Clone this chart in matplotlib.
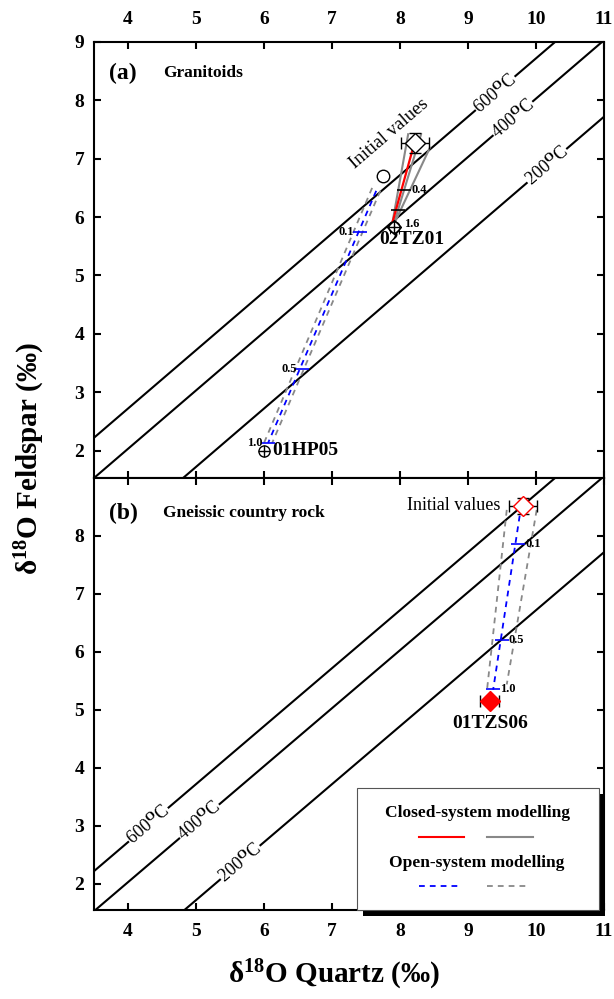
import numpy as np
import matplotlib.pyplot as plt
from matplotlib.patches import Rectangle
import matplotlib.transforms as mtransforms

plt.rcParams['font.family'] = ['Liberation Serif', 'DejaVu Serif']
plt.rcParams['font.weight'] = 'bold'
plt.rcParams['mathtext.fontset'] = 'custom'
plt.rcParams['mathtext.rm'] = 'Liberation Serif'
plt.rcParams['mathtext.bf'] = 'Liberation Serif:bold'
plt.rcParams['mathtext.it'] = 'Liberation Serif:italic'

# Isotherms: d18O Fsp = d18O Qz - delta
iso_temps = ['600', '400', '200']
iso_delta = [1.28, 1.97, 3.28]
iso_lab_x_a = [9.40, 9.66, 10.16]
iso_lab_x_b = [4.30, 5.05, 5.65]
x_lim = [3.5, 11]
x_ticks = [4, 5, 6, 7, 8, 9, 10, 11]

# ---- Panel (a) granitoids ----
a_names = ['01HP05', '02TZ01']
a_qz = [6.00, 7.91]
a_fsp = [2.00, 5.83]
a_init_qz = [7.75, 8.22]
a_init_fsp = [6.71, 7.27]
a_init_xerr = 0.20
a_init_yerr = 0.17

# closed-system model for 02TZ01
cl_red_qz = [8.20, 7.88]
cl_red_fsp = [7.22, 5.87]
cl_grey_qz = [[8.12, 7.88], [8.31, 7.90], [8.44, 7.90]]
cl_grey_fsp = [[7.42, 5.85], [7.42, 5.85], [7.19, 5.85]]
cl_tick_qz = [8.06, 7.97]
cl_tick_fsp = [6.47, 6.12]
cl_tick_lab = ['0.4', '']

# open-system model for 01HP05
op_blue_qz = [7.65, 6.06]
op_blue_fsp = [6.45, 2.13]
op_grey_qz = [[7.59, 6.00], [7.71, 6.12]]
op_grey_fsp = [[6.50, 2.13], [6.45, 2.13]]
op_tick_qz = [7.41, 6.56, 6.06]
op_tick_fsp = [5.75, 3.40, 2.13]
op_tick_lab = ['0.1', '0.5', '1.0']

# ---- Panel (b) gneissic country rock ----
b_name = '01TZS06'
b_qz = 9.32
b_fsp = 5.16
b_xerr = 0.14
b_init_qz = 9.81
b_init_fsp = 8.52
b_init_xerr = 0.21
b_init_yerr = 0.14

b_blue_qz = [9.76, 9.37]
b_blue_fsp = [8.35, 5.35]
b_grey_qz = [[9.57, 9.28], [10.01, 9.57]]
b_grey_fsp = [[8.45, 5.35], [8.45, 5.44]]
b_tick_qz = [9.74, 9.50, 9.37]
b_tick_fsp = [7.87, 6.21, 5.36]
b_tick_lab = ['0.1', '0.5', '1.0']

GREY = '#888888'
DASH = (3.2, 2.8)

fig = plt.figure(figsize=(6.14, 9.99), dpi=100)
ax_a = fig.add_axes([94/614, 1-478/999, 510/614, 436/999])
ax_b = fig.add_axes([94/614, 1-910/999, 510/614, 432/999])


def draw_isotherms(ax, lab_x):
    for t, d, lx in zip(iso_temps, iso_delta, lab_x):
        ax.plot(x_lim, [x_lim[0]-d, x_lim[1]-d], 'k-', lw=1.5, zorder=1)
        ax.text(lx, lx-d, t + '$^{\\mathrm{O}}$C', fontsize=13, fontweight='normal',
                rotation=45, transform_rotates_text=True, rotation_mode='anchor',
                ha='center', va='center', zorder=2,
                bbox=dict(facecolor='white', edgecolor='none', pad=0.3))


def tick_labels(ax, xs, ys, labs, dx, color, ha):
    ax.plot(xs, ys, ls='none', marker='_', ms=10, mew=1.2, color=color, zorder=4)
    for x, y, s in zip(xs, ys, labs):
        if s:
            ax.annotate(s, (x, y), xytext=(dx, 0), textcoords='offset points',
                        fontsize=9, ha=ha, va='center', zorder=6)


for ax in (ax_a, ax_b):
    ax.set_xlim(x_lim)
    ax.set_xticks(x_ticks)
    ax.tick_params(direction='in', length=5, width=1.5, top=True, right=True,
                   labelsize=14, pad=7)
    for sp in ax.spines.values():
        sp.set_linewidth(1.5)

ax_a.set_ylim(1.53, 9)
ax_a.set_yticks([2, 3, 4, 5, 6, 7, 8, 9])
ax_a.tick_params(axis='x', labeltop=True, labelbottom=False, pad=10)
ax_b.set_ylim(1.55, 9)
ax_b.set_yticks([2, 3, 4, 5, 6, 7, 8])
ax_b.tick_params(axis='x', pad=9)

# ---- panel (a) ----
draw_isotherms(ax_a, iso_lab_x_a)
for gx, gy in zip(cl_grey_qz, cl_grey_fsp):
    ax_a.plot(gx, gy, color=GREY, lw=1.5, zorder=3)
ax_a.plot(cl_red_qz, cl_red_fsp, color='red', lw=1.6, zorder=3)
tick_labels(ax_a, cl_tick_qz, cl_tick_fsp, cl_tick_lab, 5, 'black', 'left')
ax_a.annotate('1.6', (a_qz[1], a_fsp[1]), xytext=(7, 2), textcoords='offset points',
              fontsize=9, ha='left', va='center')

for gx, gy in zip(op_grey_qz, op_grey_fsp):
    ax_a.plot(gx, gy, color=GREY, lw=1.3, dashes=DASH, zorder=3)
ax_a.plot(op_blue_qz, op_blue_fsp, color='blue', lw=1.3, dashes=DASH, zorder=3)
tick_labels(ax_a, op_tick_qz, op_tick_fsp, op_tick_lab, -4, 'blue', 'right')

# samples
for q, f in zip(a_qz, a_fsp):
    ax_a.plot(q, f, 'o', ms=8, mfc='white', mec='black', mew=1, zorder=5)
    ax_a.plot(q, f, '+', ms=9, color='black', mew=1, zorder=6)
ax_a.plot(a_qz[1], a_fsp[1], 'D', ms=7, mfc='none', mec='black', mew=1, zorder=6)
ax_a.text(a_qz[0]+0.12, a_fsp[0], a_names[0], fontsize=14, ha='left', va='center')
ax_a.text(a_qz[1]-0.22, a_fsp[1]-0.22, a_names[1], fontsize=14, ha='left', va='center')

# initial values
ax_a.plot(a_init_qz[0], a_init_fsp[0], 'o', ms=9, mfc='white', mec='black', mew=1, zorder=5)
ax_a.errorbar(a_init_qz[1], a_init_fsp[1], xerr=a_init_xerr, yerr=a_init_yerr,
              fmt='D', ms=10, mfc='white', mec='black', mew=1, ecolor='black',
              elinewidth=1, capsize=4, zorder=5)
ax_a.text(7.84, 7.43, 'Initial values', fontsize=13.5, fontweight='normal',
          rotation=45, transform_rotates_text=True, rotation_mode='anchor',
          ha='center', va='center')

ax_a.text(0.03, 0.929, '(a)', transform=ax_a.transAxes, fontsize=17,
          ha='left', va='center')
ax_a.text(0.135, 0.929, 'Granitoids', transform=ax_a.transAxes, fontsize=12.5,
          ha='left', va='center')

# ---- panel (b) ----
draw_isotherms(ax_b, iso_lab_x_b)
for gx, gy in zip(b_grey_qz, b_grey_fsp):
    ax_b.plot(gx, gy, color=GREY, lw=1.3, dashes=DASH, zorder=3)
ax_b.plot(b_blue_qz, b_blue_fsp, color='blue', lw=1.3, dashes=DASH, zorder=3)
tick_labels(ax_b, b_tick_qz, b_tick_fsp, b_tick_lab, 5, 'blue', 'left')

ax_b.errorbar(b_qz, b_fsp, xerr=b_xerr, fmt='D', ms=10, color='red', mec='red',
              ecolor='black', elinewidth=1, capsize=4, zorder=5)
ax_b.text(b_qz, b_fsp-0.4, b_name, fontsize=14, ha='center', va='center')
ax_b.errorbar(b_init_qz, b_init_fsp, xerr=b_init_xerr, yerr=b_init_yerr,
              fmt='D', ms=10, mfc='white', mec='red', mew=1, ecolor='black',
              elinewidth=1, capsize=4, zorder=5)
ax_b.text(b_init_qz-0.33, b_init_fsp, 'Initial values', fontsize=13,
          fontweight='normal', ha='right', va='center')

ax_b.text(0.03, 0.918, '(b)', transform=ax_b.transAxes, fontsize=17,
          ha='left', va='center')
ax_b.text(0.135, 0.918, 'Gneissic country rock', transform=ax_b.transAxes,
          fontsize=12.5, ha='left', va='center')

# legend box with shadow
shadow = mtransforms.offset_copy(ax_b.transAxes, fig=fig, x=6, y=-6, units='dots')
ax_b.add_patch(Rectangle((0.516, 0.0), 0.474, 0.282, transform=shadow,
                         facecolor='black', edgecolor='none', clip_on=False, zorder=7))
ax_b.add_patch(Rectangle((0.516, 0.0), 0.474, 0.282, transform=ax_b.transAxes,
                         facecolor='white', edgecolor='#555555', lw=0.8,
                         clip_on=False, zorder=8))
ax_b.text(0.751, 0.225, 'Closed-system modelling', transform=ax_b.transAxes,
          fontsize=12.5, ha='center', va='center', zorder=9)
ax_b.plot([0.637, 0.726], [0.169, 0.169], color='red', lw=1.5,
          transform=ax_b.transAxes, zorder=9, clip_on=False)
ax_b.plot([0.771, 0.861], [0.169, 0.169], color=GREY, lw=1.5,
          transform=ax_b.transAxes, zorder=9, clip_on=False)
ax_b.text(0.751, 0.109, 'Open-system modelling', transform=ax_b.transAxes,
          fontsize=12.5, ha='center', va='center', zorder=9)
ax_b.plot([0.637, 0.72], [0.056, 0.056], color='blue', lw=1.3, dashes=DASH,
          transform=ax_b.transAxes, zorder=9, clip_on=False)
ax_b.plot([0.771, 0.851], [0.056, 0.056], color=GREY, lw=1.3, dashes=DASH,
          transform=ax_b.transAxes, zorder=9, clip_on=False)

fig.text(334/614, 1-975/999, 'δ$^{\\mathbf{18}}$O Quartz (‰)', fontsize=21,
         ha='center', va='center')
fig.text(30/614, 1-458/999, 'δ$^{\\mathbf{18}}$O Feldspar (‰)', fontsize=21,
         ha='center', va='center', rotation=90)

fig.savefig('out.png', dpi=100)
